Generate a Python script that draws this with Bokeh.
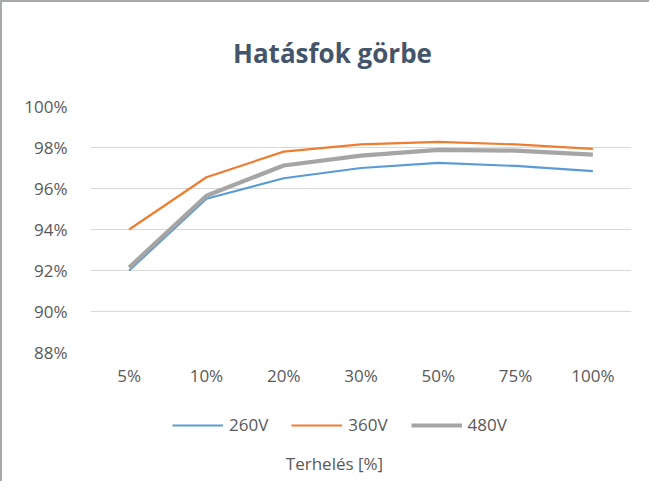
from bokeh.plotting import figure
from bokeh.layouts import column
from bokeh.models import (FactorRange, Range1d, FixedTicker, PrintfTickFormatter,
                          Legend, LegendItem, Label, ColumnDataSource)
from bokeh.embed import file_html
from bokeh.resources import INLINE

# ---- data ----
categories = ["5%", "10%", "20%", "30%", "50%", "75%", "100%"]
v260 = [92.0, 95.5, 96.5, 97.0, 97.25, 97.1, 96.85]
v360 = [94.0, 96.55, 97.8, 98.15, 98.27, 98.15, 97.93]
v480 = [92.15, 95.65, 97.12, 97.6, 97.88, 97.85, 97.65]
y_ticks = [88, 90, 92, 94, 96, 98, 100]
series_names = ["260V", "360V", "480V"]
series_colors = ["#5B9BD5", "#ED7D31", "#A5A5A5"]
series_widths = [2.2, 2.2, 4.2]
chart_title = "Hatásfok görbe"
x_title = "Terhelés [%]"

TEXT = "#595959"
FONT = "Open Sans"
BORDER = "2px solid #A6A8AB"


def strip(h, styles):
    f = figure(width=649, height=h, x_range=Range1d(0, 1), y_range=Range1d(0, 1),
               output_backend="svg", toolbar_location=None, title=None,
               x_axis_location=None, y_axis_location=None,
               min_border_left=0, min_border_right=0, min_border_top=0,
               min_border_bottom=0)
    f.styles = styles
    f.grid.visible = False
    f.outline_line_color = None
    f.background_fill_color = "white"
    f.border_fill_color = "white"
    return f


# ---- title strip ----
t = strip(88, {"border-top": BORDER, "border-left": BORDER})
t.add_layout(Label(x=242, y=38, x_units="screen", y_units="screen", text=chart_title,
                   text_align="center", text_baseline="middle", text_font=FONT,
                   text_font_style="bold", text_font_size="26px",
                   text_color="#44546A"))

# ---- main chart ----
p = figure(width=649, height=310, x_range=FactorRange(*categories),
           y_range=Range1d(88, 100), output_backend="svg", toolbar_location=None,
           title=None, min_border_left=88, min_border_right=20, min_border_top=18,
           min_border_bottom=46)
p.styles = {"border-left": BORDER}
p.outline_line_color = None
p.background_fill_color = "white"
p.border_fill_color = "white"

src = ColumnDataSource(dict(x=categories, a=v260, b=v360, c=v480))
for col, c, w in zip(["a", "b", "c"], series_colors, series_widths):
    p.line("x", col, source=src, line_color=c, line_width=w)

p.xgrid.grid_line_color = None
p.ygrid.grid_line_color = "#D9D9D9"
p.ygrid.grid_line_width = 1.2
p.yaxis.ticker = FixedTicker(ticks=y_ticks)
p.yaxis.formatter = PrintfTickFormatter(format="%d%%")
for ax in (p.xaxis, p.yaxis):
    ax.axis_line_color = None
    ax.major_tick_line_color = None
    ax.minor_tick_line_color = None
    ax.major_label_text_color = TEXT
    ax.major_label_text_font = FONT
    ax.major_label_text_font_size = "17px"
p.xaxis.major_label_standoff = 5
p.yaxis.major_label_standoff = 17

# ---- legend strip + x axis title ----
q = strip(83, {"border-left": BORDER})

nan = float("nan")
items = []
for name, c, w in zip(series_names, series_colors, series_widths):
    r = q.line(x=[nan], y=[nan], line_color=c, line_width=w)
    items.append(LegendItem(label=name, renderers=[r]))

legend = Legend(items=items, orientation="horizontal", location=(82, 45),
                glyph_width=51, glyph_height=20, label_standoff=6, spacing=23,
                padding=0, margin=0, border_line_color=None,
                background_fill_alpha=0, label_text_color=TEXT,
                label_text_font=FONT, label_text_font_size="17px")
q.add_layout(legend, "center")

q.add_layout(Label(x=244, y=18, x_units="screen", y_units="screen", text=x_title,
                   text_align="center", text_baseline="middle", text_font=FONT,
                   text_font_size="17px", text_color=TEXT))

root = column(t, p, q, spacing=0)
open("out.html", "w").write(file_html(root, INLINE))
